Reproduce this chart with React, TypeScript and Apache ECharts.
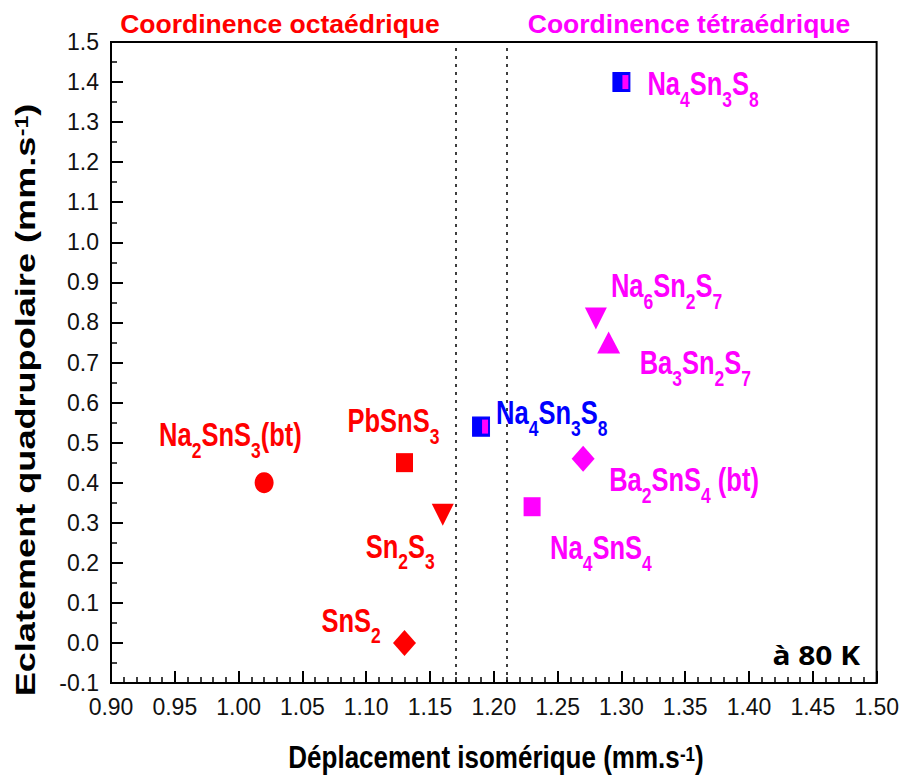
import React, { useEffect, useRef } from "react";
import * as echarts from "echarts";

// ---- data ----
const octaNames = ["Na2SnS3(bt)", "PbSnS3", "Sn2S3", "SnS2"];
const octaX = [1.02, 1.13, 1.16, 1.13];
const octaY = [0.4, 0.45, 0.32, 0.0];

const tetraNames = ["Na6Sn2S7", "Ba3Sn2S7", "Ba2SnS4 (bt)", "Na4SnS4"];
const tetraX = [1.28, 1.29, 1.27, 1.23];
const tetraY = [0.81, 0.75, 0.46, 0.34];

const mixedNames = ["Na4Sn3S8", "Na4Sn3S8"];
const mixedX = [1.19, 1.3];
const mixedY = [0.54, 1.4];

const boundaries = [1.17, 1.21];

const xTicks = { min: 0.9, max: 1.5, interval: 0.05 };
const yTicks = { min: -0.1, max: 1.5, interval: 0.1 };

const xTitle = ["Déplacement isomérique (mm.s", "-1", ")"];
const yTitle = ["Eclatement quadrupolaire (mm.s", "-1", ")"];
const groupTitles = ["Coordinence octaédrique", "Coordinence tétraédrique"];
const tempNote = "à 80 K";

// ---- styles ----
const RED = "#FF0000";
const MAG = "#FF00FF";
const BLUE = "#0000FF";
const SANS = '"Liberation Sans", Arial, sans-serif';

const octaSymbols = ["circle", "rect", "triangle", "diamond"];
const octaRotate = [0, 0, 180, 0];
const octaSizes = [[19, 21], [17, 19], [22, 22], [23, 26]];
const octaOffsets = [[-105, -48], [-57, -42], [-77, 31], [-83, -23]];

const tetraSymbols = ["triangle", "triangle", "diamond", "rect"];
const tetraRotate = [180, 0, 0, 0];
const tetraSizes = [[22, 22], [23, 22], [23, 26], [17, 19]];
const tetraOffsets = [[15, -33], [31, 20], [26, 21], [18, 41]];

const mixedLabelColors = [BLUE, MAG];
const mixedOffsets = [[15, -14], [26, 1]];

const MAIN_FONT = `bold 25.5px ${SANS}`;
const SUB_FONT = `bold 17.5px ${SANS}`;
const SUB_Y = 12;
const LABEL_SCALE_Y = 1.3;

let measureCtx: CanvasRenderingContext2D | null = null;
function measure(text: string, font: string) {
  if (!measureCtx) measureCtx = document.createElement("canvas").getContext("2d");
  if (!measureCtx) return text.length * 12;
  measureCtx.font = font;
  return measureCtx.measureText(text).width;
}

function formulaPieces(name: string, color: string) {
  const parts = name.match(/\d+|\D+/g) || [];
  let cursor = 0;
  return parts.map((p) => {
    const sub = /^\d+$/.test(p);
    const font = sub ? SUB_FONT : MAIN_FONT;
    const el = {
      type: "text",
      x: cursor,
      y: sub ? SUB_Y : 0,
      style: { text: p, font, fill: color, align: "left", verticalAlign: "middle" },
    };
    cursor += measure(p, font);
    return el;
  });
}

function titlePieces(parts: string[], mainFont: string, supFont: string, supY: number) {
  const widths = parts.map((p, i) => measure(p, i === 1 ? supFont : mainFont));
  const total = widths.reduce((a, b) => a + b, 0);
  let cursor = -total / 2;
  return parts.map((p, i) => {
    const el = {
      type: "text",
      x: cursor,
      y: i === 1 ? supY : 0,
      style: {
        text: p,
        font: i === 1 ? supFont : mainFont,
        fill: "#000",
        align: "left",
        verticalAlign: "middle",
      },
    };
    cursor += widths[i];
    return el;
  });
}

function labelSeries(names: string[], xs: number[], ys: number[], colors: string[], offsets: number[][]) {
  return {
    type: "custom",
    silent: true,
    z: 6,
    encode: { x: 0, y: 1 },
    data: names.map((_, i) => [xs[i], ys[i]]),
    renderItem: (params: any, api: any) => {
      const i = params.dataIndex;
      const p = api.coord([api.value(0), api.value(1)]);
      return {
        type: "group",
        x: p[0] + offsets[i][0],
        y: p[1] + offsets[i][1],
        scaleY: LABEL_SCALE_Y,
        children: formulaPieces(names[i], colors[i]),
      };
    },
  };
}

export default function App() {
  const ref = useRef<HTMLDivElement>(null);
  useEffect(() => {
    if (!ref.current) return;
    const chart = echarts.init(ref.current, null, { renderer: "svg" });

    const octaData = octaNames.map((n, i) => ({
      name: n,
      value: [octaX[i], octaY[i]],
      symbol: octaSymbols[i],
      symbolRotate: octaRotate[i],
      symbolSize: octaSizes[i],
    }));
    const tetraData = tetraNames.map((n, i) => ({
      name: n,
      value: [tetraX[i], tetraY[i]],
      symbol: tetraSymbols[i],
      symbolRotate: tetraRotate[i],
      symbolSize: tetraSizes[i],
    }));
    const mixedData = mixedNames.map((n, i) => ({ name: n, value: [mixedX[i], mixedY[i]] }));

    const axisLabelStyle = { fontFamily: SANS, fontSize: 23, color: "#111" };

    chart.setOption({
      animation: false,
      backgroundColor: "#fff",
      grid: {
        left: 111,
        right: 22,
        top: 42,
        bottom: 95,
        show: true,
        borderColor: "#000",
        borderWidth: 2,
        backgroundColor: "transparent",
      },
      graphic: [
        {
          type: "text",
          x: 280,
          y: 24,
          style: {
            text: groupTitles[0],
            fill: RED,
            font: `bold 26.5px ${SANS}`,
            align: "center",
            verticalAlign: "middle",
          },
        },
        {
          type: "text",
          x: 689,
          y: 24,
          style: {
            text: groupTitles[1],
            fill: MAG,
            font: `bold 26.5px ${SANS}`,
            align: "center",
            verticalAlign: "middle",
          },
        },
        {
          type: "text",
          x: 860,
          y: 655,
          scaleX: 1.15,
          originX: 0,
          originY: 0,
          style: {
            text: tempNote,
            fill: "#000",
            font: `bold 26px "Open Sans", sans-serif`,
            align: "right",
            verticalAlign: "middle",
          },
        },
        {
          type: "group",
          x: 496,
          y: 757,
          scaleY: 1.2,
          children: titlePieces(xTitle, `bold 26px ${SANS}`, `bold 17px ${SANS}`, -2.5),
        },
        {
          type: "group",
          x: 25,
          y: 400,
          rotation: Math.PI / 2,
          scaleX: 1.29,
          children: titlePieces(yTitle, `bold 28px ${SANS}`, `bold 18px ${SANS}`, -3.6),
        },
      ],
      xAxis: {
        type: "value",
        min: xTicks.min,
        max: xTicks.max,
        interval: xTicks.interval,
        axisLine: { show: true, onZero: false, lineStyle: { color: "#000", width: 2 } },
        axisTick: { show: true, inside: true, length: 12, lineStyle: { color: "#000", width: 2 } },
        minorTick: { show: true, splitNumber: 5, length: 6, lineStyle: { color: "#000", width: 1.5 } },
        splitLine: { show: false },
        axisLabel: { ...axisLabelStyle, margin: 12, formatter: (v: number) => v.toFixed(2) },
      },
      yAxis: {
        type: "value",
        min: yTicks.min,
        max: yTicks.max,
        interval: yTicks.interval,
        axisLine: { show: true, onZero: false, lineStyle: { color: "#000", width: 2 } },
        axisTick: { show: true, inside: true, length: 12, lineStyle: { color: "#000", width: 2 } },
        minorTick: { show: true, splitNumber: 2, length: 6, lineStyle: { color: "#000", width: 1.5 } },
        splitLine: { show: false },
        axisLabel: { ...axisLabelStyle, margin: 12, formatter: (v: number) => v.toFixed(1) },
      },
      series: [
        {
          name: "octa",
          type: "scatter",
          itemStyle: { color: RED, opacity: 1 },
          data: octaData,
          z: 3,
          markLine: {
            silent: true,
            symbol: "none",
            label: { show: false },
            lineStyle: { type: [3, 5], color: "#000", width: 1.5 },
            data: boundaries.map((b) => ({ xAxis: b })),
          },
        },
        {
          name: "tetra",
          type: "scatter",
          itemStyle: { color: MAG, opacity: 1 },
          data: tetraData,
          z: 3,
        },
        {
          name: "mixedBase",
          type: "scatter",
          symbol: "rect",
          symbolSize: [17, 19],
          itemStyle: { color: BLUE, borderColor: BLUE, borderWidth: 1, opacity: 1 },
          data: mixedData,
          z: 3,
        },
        {
          name: "mixedFill",
          type: "scatter",
          symbol: "rect",
          symbolSize: [6, 14],
          symbolOffset: [4, 0],
          itemStyle: { color: MAG, opacity: 1 },
          data: mixedData,
          z: 4,
          silent: true,
        },
        labelSeries(octaNames, octaX, octaY, octaNames.map(() => RED), octaOffsets),
        labelSeries(tetraNames, tetraX, tetraY, tetraNames.map(() => MAG), tetraOffsets),
        labelSeries(mixedNames, mixedX, mixedY, mixedLabelColors, mixedOffsets),
      ],
    });
    return () => chart.dispose();
  }, []);
  return (
    <div
      ref={ref}
      style={{ position: "absolute", left: 0, top: 0, width: 902, height: 778 }}
    />
  );
}
